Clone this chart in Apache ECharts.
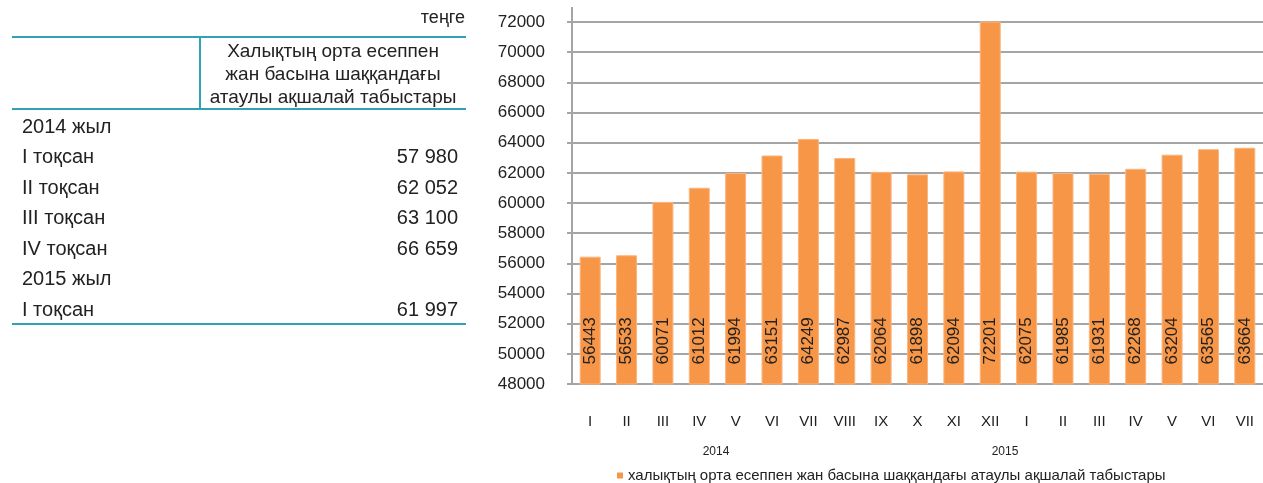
<!DOCTYPE html>
<html>
<head>
<meta charset="utf-8">
<script src="https://cdn.jsdelivr.net/npm/echarts@6/dist/echarts.min.js"></script>
<style>
  html, body { margin: 0; padding: 0; background: #fff; }
  #main { width: 1263px; height: 483px; }
</style>
</head>
<body>
<div id="main"></div>
<script>
// monthly data
var months = ['I', 'II', 'III', 'IV', 'V', 'VI', 'VII', 'VIII', 'IX', 'X', 'XI', 'XII',
    'I', 'II', 'III', 'IV', 'V', 'VI', 'VII'];
var incomes = [56443, 56533, 60071, 61012, 61994, 63151, 64249, 62987, 62064, 61898, 62094, 72201,
    62075, 61985, 61931, 62268, 63204, 63565, 63664];
var years = ['2014', '2015'];
var seriesName = 'халықтың орта есеппен жан басына шаққандағы атаулы ақшалай табыстары';

// quarterly table
var tableRows = ['2014 жыл', 'I тоқсан', 'II тоқсан', 'III тоқсан', 'IV тоқсан', '2015 жыл', 'I тоқсан'];
var tableValues = ['', '57 980', '62 052', '63 100', '66 659', '', '61 997'];
var tableHeader = ['Халықтың орта есеппен', 'жан басына шаққандағы', 'атаулы ақшалай табыстары'];
var unitText = 'теңге';

var font = '"Liberation Sans", Arial, sans-serif';
var teal = '#2fa3b3';
var gray = '#a5a5a5';
var orange = '#f79646';

var chart = echarts.init(document.getElementById('main'));

// table drawn with graphic text
var graphics = [];
graphics.push({type: 'text', x: 465, y: 18,
    style: {text: unitText, font: '18px ' + font, fill: '#222', align: 'right', verticalAlign: 'middle'}});
graphics.push({type: 'line', shape: {x1: 12, y1: 37, x2: 466, y2: 37}, style: {stroke: teal, lineWidth: 2}});
graphics.push({type: 'line', shape: {x1: 200, y1: 37, x2: 200, y2: 109}, style: {stroke: teal, lineWidth: 2}});
graphics.push({type: 'line', shape: {x1: 12, y1: 109, x2: 466, y2: 109}, style: {stroke: teal, lineWidth: 2}});
graphics.push({type: 'line', shape: {x1: 12, y1: 324, x2: 466, y2: 324}, style: {stroke: teal, lineWidth: 2}});
tableHeader.forEach(function (t, i) {
    graphics.push({type: 'text', x: 333, y: 52 + i * 23,
        style: {text: t, font: '19px ' + font, fill: '#222', align: 'center', verticalAlign: 'middle'}});
});
tableRows.forEach(function (t, i) {
    var y = 127 + i * 30.5;
    graphics.push({type: 'text', x: 22, y: y,
        style: {text: t, font: '20px ' + font, fill: '#222', verticalAlign: 'middle'}});
    if (tableValues[i]) {
        graphics.push({type: 'text', x: 458, y: y,
            style: {text: tableValues[i], font: '20px ' + font, fill: '#222', align: 'right', verticalAlign: 'middle'}});
    }
});
// year labels under the months
graphics.push({type: 'text', x: 716, y: 452,
    style: {text: years[0], font: '12px ' + font, fill: '#222', align: 'center', verticalAlign: 'middle'}});
graphics.push({type: 'text', x: 1005, y: 452,
    style: {text: years[1], font: '12px ' + font, fill: '#222', align: 'center', verticalAlign: 'middle'}});
// y axis line runs a little above the top gridline
graphics.push({type: 'line', shape: {x1: 572, y1: 7, x2: 572, y2: 22}, style: {stroke: gray, lineWidth: 2}});

var option = {
    animation: false,
    textStyle: {fontFamily: font},
    grid: {left: 572, right: 0, top: 22, bottom: 99},
    legend: {
        left: 612,
        top: 463,
        itemWidth: 6,
        itemHeight: 6,
        icon: 'rect',
        itemStyle: {borderWidth: 0},
        textStyle: {fontSize: 15, color: '#222', fontFamily: font},
        data: [seriesName]
    },
    xAxis: {
        type: 'category',
        data: months,
        axisLine: {lineStyle: {color: gray, width: 2}},
        axisTick: {show: false},
        axisLabel: {fontSize: 15, color: '#222', margin: 30, interval: 0}
    },
    yAxis: {
        type: 'value',
        min: 48000,
        max: 72000,
        interval: 2000,
        axisLine: {show: true, lineStyle: {color: gray, width: 2}},
        axisTick: {show: true, length: 5, lineStyle: {color: gray, width: 2}},
        axisLabel: {fontSize: 17, color: '#222', margin: 27, formatter: function (v) { return String(v); }},
        splitLine: {lineStyle: {color: gray, width: 2}}
    },
    series: [{
        name: seriesName,
        type: 'bar',
        data: incomes,
        barWidth: 21,
        itemStyle: {color: orange, borderColor: '#fbb57e', borderWidth: 1},
        label: {
            show: true,
            position: 'insideBottom',
            distance: 20,
            rotate: 90,
            align: 'left',
            verticalAlign: 'middle',
            fontSize: 17,
            color: '#222'
        }
    }],
    graphic: graphics
};

chart.setOption(option);
</script>
</body>
</html>
